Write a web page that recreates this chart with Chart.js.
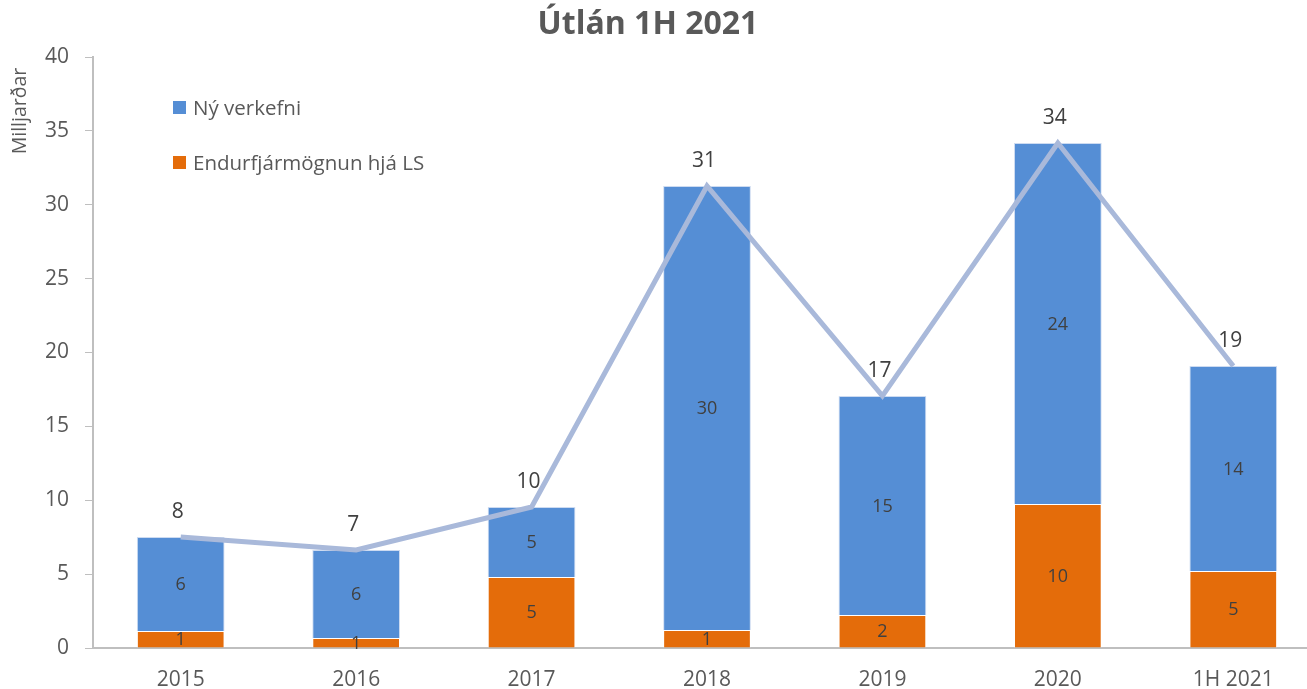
<!DOCTYPE html>
<html>
<head>
<meta charset="utf-8">
<script src="https://cdn.jsdelivr.net/npm/chart.js@4"></script>
<style>
  html, body { margin: 0; padding: 0; background: #fff; overflow: hidden; }
  #wrap { position: relative; width: 1325px; height: 689px; }
  #legend { position: absolute; left: 173px; top: 92px; font-family: "Open Sans", sans-serif; font-size: 20.5px; color: #595959; }
  #legend div { height: 55px; display: flex; align-items: flex-start; line-height: 30px; }
  #legend span.box { display: inline-block; width: 13px; height: 13px; margin: 9px 7px 0 0; }
</style>
</head>
<body>
<div id="wrap">
  <canvas id="chart" width="1325" height="689"></canvas>
  <div id="legend"></div>
</div>
<script>
// Data
const labels = ['2015', '2016', '2017', '2018', '2019', '2020', '1H 2021'];
const nyVerkefni = [6.36, 5.95, 4.74, 30.05, 14.83, 24.43, 13.88];
const endurfjarmognun = [1.15, 0.68, 4.80, 1.22, 2.23, 9.75, 5.21];
const samtals = [7.51, 6.63, 9.54, 31.27, 17.06, 34.18, 19.09];
const yTicks = [0, 5, 10, 15, 20, 25, 30, 35, 40];

const textColor = '#595959';
const labelColor = '#404040';

// labels inside bars and above the line
const valueLabels = {
    id: 'valueLabels',
    afterDatasetsDraw(chart) {
        const ctx = chart.ctx;
        ctx.save();
        ctx.textAlign = 'center';
        ctx.textBaseline = 'middle';
        ctx.fillStyle = labelColor;
        chart.data.datasets.forEach((ds, i) => {
            const meta = chart.getDatasetMeta(i);
            meta.data.forEach((el, j) => {
                const v = Math.round(ds.data[j]);
                if (ds.type === 'line') {
                    ctx.font = '21px "Open Sans"';
                    ctx.fillText(v, el.x - 3, el.y - 25);
                } else {
                    ctx.font = '18px "Open Sans"';
                    ctx.fillText(v, el.x, (el.y + el.base) / 2 + 1);
                }
            });
        });
        ctx.restore();
    }
};

// title and y axis title
const extraText = {
    id: 'extraText',
    afterDraw(chart) {
        const ctx = chart.ctx;
        ctx.save();
        ctx.fillStyle = textColor;
        ctx.textAlign = 'center';
        ctx.textBaseline = 'middle';
        ctx.font = 'bold 32px "Open Sans"';
        ctx.fillText('Útlán 1H 2021', 648, 25);
        ctx.translate(20, 111);
        ctx.rotate(-Math.PI / 2);
        ctx.font = '19.5px "Open Sans"';
        ctx.fillText('Milljarðar', 0, 0);
        ctx.restore();
    }
};

const chart = new Chart(document.getElementById('chart'), {
    type: 'bar',
    data: {
        labels: labels,
        datasets: [
            {
                type: 'line',
                label: 'Samtals',
                data: samtals,
                stack: 'line',
                borderColor: '#A9B9DA',
                borderWidth: 5,
                pointRadius: 0,
                tension: 0,
                order: 0
            },
            {
                label: 'Endurfjármögnun hjá LS',
                data: endurfjarmognun,
                stack: 'bars',
                backgroundColor: '#E46C0A',
                borderColor: 'rgba(255,255,255,0.5)',
                borderWidth: 1,
                order: 1
            },
            {
                label: 'Ný verkefni',
                data: nyVerkefni,
                stack: 'bars',
                backgroundColor: '#558ED5',
                borderColor: 'rgba(200,215,240,0.9)',
                borderWidth: 1,
                order: 1
            }
        ]
    },
    options: {
        responsive: false,
        animation: false,
        layout: { padding: { top: 57, right: 4, left: 0, bottom: 0 } },
        datasets: { bar: { barPercentage: 0.5, categoryPercentage: 1 } },
        plugins: {
            legend: { display: false },
            tooltip: { enabled: false }
        },
        scales: {
            x: {
                stacked: true,
                grid: { display: false, drawTicks: false },
                border: { color: '#BFBFBF', width: 2 },
                ticks: { color: textColor, font: { family: 'Open Sans', size: 21 }, padding: 19 },
                afterFit(scale) { scale.height = 41; }
            },
            y: {
                stacked: true,
                min: 0,
                max: 40,
                afterBuildTicks(scale) { scale.ticks = yTicks.map(v => ({ value: v })); },
                grid: { drawOnChartArea: false, tickLength: 8, color: '#BFBFBF' },
                border: { color: '#BFBFBF', width: 2 },
                ticks: { color: textColor, font: { family: 'Open Sans', size: 21 }, padding: 16 },
                afterFit(scale) { scale.width = 93; }
            }
        }
    },
    plugins: [valueLabels, extraText]
});

// legend for the bar series
const legend = document.getElementById('legend');
[chart.data.datasets[2], chart.data.datasets[1]].forEach(ds => {
    const row = document.createElement('div');
    row.innerHTML = '<span class="box" style="background:' + ds.backgroundColor + '"></span>' + ds.label;
    legend.appendChild(row);
});
</script>
</body>
</html>
